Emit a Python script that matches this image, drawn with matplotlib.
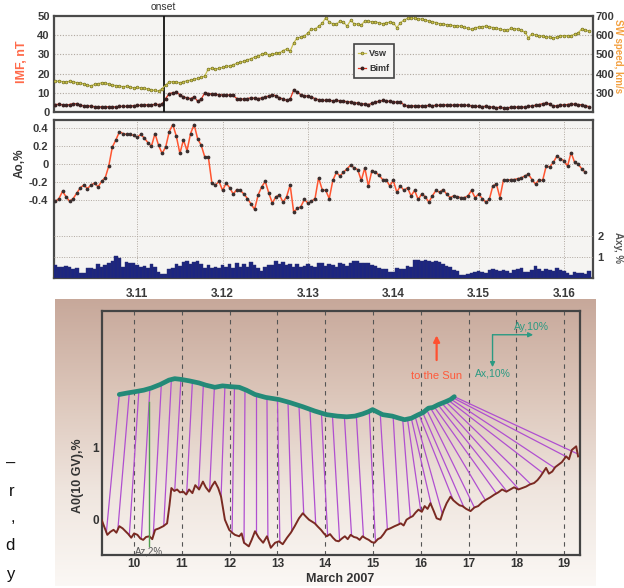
import numpy as np
import matplotlib
matplotlib.use("Agg")
import matplotlib.pyplot as plt
from matplotlib.colors import LinearSegmentedColormap
from matplotlib.ticker import FixedLocator

plt.rcParams['font.family'] = ['Liberation Sans', 'DejaVu Sans']

# ---------------------------------------------------------------
# data: hourly series, hour 1 = 3.10 01 UT (x axis in days of March)
# ---------------------------------------------------------------
vsw_kms = [360, 362, 358, 355, 361, 358, 353, 350, 347, 340, 336, 344,
           346, 353, 350, 345, 340, 338, 335, 332, 334, 330, 326, 328,
           325, 323, 320, 316, 312, 309, 322, 340, 357, 358, 356, 352,
           358, 363, 366, 370, 375, 380, 388, 425, 428, 423, 428, 432,
           437, 440, 446, 454, 458, 465, 472, 478, 486, 493, 500, 507,
           498, 502, 505, 507, 520, 528, 516, 560, 586, 590, 595, 612,
           633, 630, 647, 661, 691, 668, 660, 656, 674, 668, 647, 677,
           660, 658, 653, 674, 672, 670, 670, 664, 660, 664, 668, 666,
           639, 665, 678, 688, 690, 688, 686, 684, 680, 674, 670, 666,
           660, 658, 655, 653, 650, 648, 647, 642, 635, 630, 639, 642,
           645, 647, 644, 640, 635, 632, 628, 625, 635, 634, 633, 625,
           616, 586, 607, 600, 597, 595, 592, 590, 586, 590, 598, 597,
           598, 598, 605, 612, 633, 628, 621]

bimf_nt = [3.9, 4.0, 3.8, 3.5, 3.9, 4.4, 4.2, 3.6, 3.2, 3.3, 3.0, 2.8,
           2.6, 2.7, 2.6, 2.8, 2.6, 2.7, 2.9, 3.0, 2.9, 3.1, 3.3, 3.5,
           3.4, 3.6, 3.8, 3.7, 4.0, 3.9, 4.1, 7.0, 9.6, 10.0, 10.2, 9.0,
           7.9, 7.4, 7.0, 7.9, 5.6, 6.7, 10.0, 9.6, 9.3, 9.2, 9.0, 8.9,
           8.8, 8.9, 8.6, 7.0, 6.8, 6.7, 7.0, 7.4, 7.1, 7.0, 7.3, 7.9,
           8.3, 9.1, 8.4, 7.4, 6.8, 6.1, 6.8, 11.4, 10.2, 9.1, 8.5, 8.2,
           7.7, 7.0, 6.4, 6.0, 6.1, 6.0, 5.9, 6.0, 5.8, 5.6, 5.4, 5.2,
           4.9, 4.6, 4.3, 4.2, 3.9, 4.5, 5.1, 5.6, 6.0, 5.8, 5.5, 5.3,
           5.1, 5.0, 3.8, 3.0, 3.1, 3.2, 3.3, 3.1, 3.2, 3.4, 3.3, 3.5,
           3.4, 3.6, 3.7, 3.5, 3.6, 3.7, 3.8, 3.6, 3.4, 3.2, 3.0, 2.9,
           2.8, 3.0, 2.7, 2.5, 2.3, 2.4, 2.1, 2.2, 2.4, 2.6, 2.5, 2.5,
           2.6, 2.9, 3.2, 3.5, 3.9, 4.3, 4.7, 4.0, 3.0, 3.3, 3.6, 3.7,
           3.9, 4.2, 4.0, 3.9, 3.7, 3.3, 2.8]

ao_pct = [-0.41, -0.38, -0.30, -0.36, -0.41, -0.38, -0.32, -0.26, -0.23, -0.27, -0.23, -0.21,
          -0.25, -0.19, -0.15, -0.02, 0.19, 0.27, 0.36, 0.34, 0.33, 0.33, 0.32, 0.30,
          0.33, 0.29, 0.24, 0.20, 0.34, 0.21, 0.12, 0.19, 0.36, 0.44, 0.31, 0.12,
          0.27, 0.15, 0.34, 0.44, 0.28, 0.21, 0.08, 0.08, -0.21, -0.23, -0.19, -0.29,
          -0.21, -0.26, -0.33, -0.28, -0.29, -0.33, -0.38, -0.44, -0.50, -0.34, -0.25, -0.19,
          -0.32, -0.43, -0.36, -0.34, -0.42, -0.36, -0.23, -0.53, -0.49, -0.47, -0.39, -0.43,
          -0.41, -0.38, -0.15, -0.28, -0.29, -0.38, -0.18, -0.09, -0.13, -0.09, -0.05, -0.01,
          -0.04, -0.06, -0.18, -0.04, -0.24, -0.07, -0.09, -0.12, -0.17, -0.17, -0.24, -0.18,
          -0.31, -0.24, -0.29, -0.26, -0.35, -0.29, -0.39, -0.33, -0.36, -0.42, -0.35, -0.29,
          -0.31, -0.28, -0.33, -0.37, -0.35, -0.36, -0.37, -0.37, -0.35, -0.29, -0.37, -0.33,
          -0.38, -0.42, -0.39, -0.24, -0.22, -0.37, -0.17, -0.18, -0.17, -0.17, -0.16, -0.15,
          -0.13, -0.11, -0.17, -0.22, -0.17, -0.18, -0.02, -0.03, 0.02, 0.09, 0.06, 0.04,
          -0.02, 0.13, 0.02, 0.00, -0.05, -0.09]

axy_pct = [0.63, 0.55, 0.55, 0.58, 0.52, 0.44, 0.47, 0.23, 0.23, 0.47, 0.50, 0.44,
           0.68, 0.55, 0.62, 0.74, 0.84, 1.06, 0.95, 0.55, 0.79, 0.71, 0.74, 0.63,
           0.55, 0.58, 0.47, 0.68, 0.52, 0.31, 0.18, 0.20, 0.42, 0.47, 0.68, 0.58,
           0.79, 0.84, 0.68, 0.79, 0.84, 0.68, 0.47, 0.63, 0.47, 0.55, 0.47, 0.63,
           0.55, 0.68, 0.47, 0.71, 0.55, 0.68, 0.55, 0.79, 0.63, 0.47, 0.35, 0.55,
           0.63, 0.63, 0.84, 0.68, 0.79, 0.63, 0.68, 0.55, 0.68, 0.52, 0.60, 0.66,
           0.58, 0.52, 0.70, 0.73, 0.60, 0.65, 0.62, 0.53, 0.70, 0.66, 0.57, 0.73,
           0.80, 0.82, 0.70, 0.74, 0.70, 0.62, 0.57, 0.48, 0.45, 0.43, 0.27, 0.30,
           0.48, 0.43, 0.45, 0.60, 0.53, 0.87, 0.85, 0.82, 0.87, 0.80, 0.77, 0.82,
           0.75, 0.65, 0.60, 0.52, 0.40, 0.32, 0.15, 0.13, 0.20, 0.22, 0.27, 0.32,
           0.30, 0.23, 0.37, 0.43, 0.40, 0.32, 0.40, 0.35, 0.23, 0.37, 0.45, 0.48,
           0.27, 0.30, 0.37, 0.57, 0.45, 0.32, 0.43, 0.38, 0.32, 0.48, 0.40, 0.32,
           0.23, 0.15, 0.27, 0.25, 0.23, 0.18, 0.32]

onset_day = 11.31
day_ticks = [11, 12, 13, 14, 15, 16]
day_tick_labels = ['3.11', '3.12', '3.13', '3.14', '3.15', '3.16']

# lower panel: A0(10 GV) density and hodograph of the anisotropy vector ends
a0_day = [9.32, 9.40, 9.44, 9.50, 9.57, 9.63, 9.69, 9.76, 9.82, 9.88, 9.94, 10.00,
          10.07, 10.13, 10.19, 10.25, 10.32, 10.38, 10.44, 10.52, 10.61, 10.69, 10.74, 10.78,
          10.84, 10.90, 10.96, 11.03, 11.09, 11.15, 11.22, 11.28, 11.36, 11.44, 11.50, 11.57,
          11.63, 11.69, 11.76, 11.82, 11.90, 11.99, 12.05, 12.11, 12.20, 12.25, 12.30, 12.40,
          12.46, 12.53, 12.61, 12.70, 12.78, 12.86, 12.95, 13.03, 13.11, 13.20, 13.28, 13.36,
          13.45, 13.53, 13.60, 13.66, 13.78, 13.85, 13.91, 13.97, 14.03, 14.10, 14.16, 14.22,
          14.28, 14.35, 14.41, 14.47, 14.53, 14.60, 14.66, 14.72, 14.78, 14.85, 14.91, 14.97,
          15.03, 15.10, 15.16, 15.22, 15.28, 15.36, 15.45, 15.52, 15.58, 15.64, 15.70, 15.77,
          15.83, 15.89, 15.95, 16.02, 16.08, 16.14, 16.20, 16.27, 16.33, 16.41, 16.47, 16.54,
          16.62, 16.68, 16.75, 16.81, 16.87, 16.95, 17.04, 17.12, 17.20, 17.28, 17.37, 17.45,
          17.54, 17.62, 17.70, 17.79, 17.87, 17.95, 18.04, 18.12, 18.20, 18.28, 18.37, 18.44,
          18.50, 18.56, 18.62, 18.68, 18.75, 18.81, 18.87, 18.95, 19.04, 19.10, 19.16, 19.25,
          19.29]
a0_val = [0.00, -0.14, -0.21, -0.17, -0.14, -0.18, -0.09, -0.12, -0.16, -0.20, -0.25, -0.19,
          -0.21, -0.26, -0.28, -0.24, -0.23, -0.27, -0.14, -0.12, -0.09, -0.05, 0.20, 0.44,
          0.40, 0.42, 0.38, 0.39, 0.35, 0.42, 0.37, 0.48, 0.42, 0.53, 0.45, 0.39, 0.47,
          0.53, 0.44, 0.32, 0.00, -0.14, -0.18, -0.21, -0.23, -0.19, -0.32, -0.37,
          -0.28, -0.16, -0.25, -0.32, -0.23, -0.39, -0.32, -0.30, -0.34, -0.25, -0.18, -0.09,
          0.02, 0.09, 0.04, 0.00, -0.05, -0.10, -0.14, -0.19, -0.23, -0.20, -0.25, -0.29,
          -0.30, -0.26, -0.23, -0.27, -0.21, -0.24, -0.25, -0.28, -0.23, -0.26, -0.28, -0.31,
          -0.32, -0.27, -0.25, -0.20, -0.14, -0.12, -0.09, -0.07, -0.05, -0.08, 0.00, 0.03,
          0.05, 0.10, 0.14, 0.11, 0.19, 0.15, 0.23, 0.12, 0.02, 0.00, 0.12, 0.23,
          0.32, 0.27, 0.23, 0.20, 0.19, 0.15, 0.12, 0.17, 0.19, 0.24, 0.28, 0.31,
          0.35, 0.38, 0.42, 0.39, 0.42, 0.45, 0.42, 0.44, 0.46, 0.49, 0.51, 0.55,
          0.60, 0.66, 0.72, 0.64, 0.67, 0.73, 0.76, 0.80, 0.88, 0.84, 0.97, 1.02,
          0.88]

teal_day = [9.69, 9.85, 10.03, 10.20, 10.36, 10.55, 10.73, 10.85, 10.98, 11.15, 11.36, 11.50,
            11.69, 11.85, 12.00, 12.20, 12.35, 12.53, 12.75, 13.03, 13.25, 13.53, 13.78,
            14.03, 14.25, 14.45, 14.62, 14.78, 14.90, 14.99, 15.08, 15.20, 15.40, 15.55,
            15.66, 15.80, 15.95, 16.05, 16.12, 16.16, 16.25, 16.37, 16.52, 16.62, 16.70]
teal_val = [1.74, 1.76, 1.78, 1.80, 1.83, 1.88, 1.94, 1.96, 1.95, 1.93, 1.90, 1.87,
            1.84, 1.86, 1.85, 1.84, 1.80, 1.74, 1.70, 1.67, 1.63, 1.57, 1.51,
            1.46, 1.44, 1.43, 1.44, 1.47, 1.50, 1.53, 1.50, 1.46, 1.44, 1.41,
            1.39, 1.41, 1.46, 1.49, 1.53, 1.55, 1.56, 1.60, 1.64, 1.67, 1.71]

# anisotropy vectors: start time on the A0 curve -> end point on the hodograph
vec_start = [9.42, 9.66, 9.90, 10.15, 10.40, 10.62, 10.85, 11.10, 11.35, 11.58, 11.82,
             12.05, 12.30, 12.55, 12.80, 13.05, 13.30, 13.55, 13.80, 14.05, 14.30, 14.55,
             14.80, 15.05, 15.30, 15.55, 15.78, 16.00, 16.22, 16.45, 16.68, 16.90, 17.12,
             17.35, 17.58, 17.80, 18.05, 18.30, 18.55, 18.80, 19.05, 19.28]
vec_end = [9.69, 9.90, 10.10, 10.33, 10.57, 10.78, 10.98, 11.22, 11.45, 11.68, 11.90,
           12.10, 12.32, 12.55, 12.78, 13.00, 13.22, 13.45, 13.68, 13.92, 14.15, 14.40,
           14.65, 14.92, 15.15, 15.42, 15.62, 15.72, 15.80, 15.88, 15.96, 16.04, 16.12,
           16.20, 16.28, 16.36, 16.44, 16.52, 16.58, 16.63, 16.67, 16.70]

march_ticks = [10, 11, 12, 13, 14, 15, 16, 17, 18, 19]

# ---------------------------------------------------------------
W, H = 624, 588
fig = plt.figure(figsize=(W / 100, H / 100), dpi=100)
fig.patch.set_facecolor('white')


def box(l, t, r, b):
    return [l / W, 1 - b / H, (r - l) / W, (b - t) / H]


def style_spines(ax, c='#4a4a4a', lw=1.6):
    for s in ax.spines.values():
        s.set_color(c)
        s.set_linewidth(lw)


tick_font = dict(fontsize=8, fontweight='bold', color='#3a3a3a')
hours = np.arange(1, len(vsw_kms) + 1)
t_hr = 10 + hours / 24.0
t_ao = 10 + np.arange(1, len(ao_pct) + 1) / 24.0
t_bar = 10 + np.arange(1, len(axy_pct) + 1) / 24.0
xlim_top = (10.025, 16.34)

# --- top panel: IMF and solar wind speed ---
ax1 = fig.add_axes(box(54, 16, 593, 112))
ax1.set_facecolor('#f5f4f2')
style_spines(ax1)
ax1.set_xlim(*xlim_top)
ax1.set_ylim(0, 50)
ax1.set_yticks([0, 10, 20, 30, 40, 50])
ax1.set_yticklabels(['0', '10', '20', '30', '40', '50'], **tick_font)
ax1.set_xticks([])
ax1.tick_params(axis='y', length=0, pad=3)
for yv in [10, 20, 30, 40]:
    ax1.axhline(yv, color='#b0a8a0', lw=0.8, ls=(0, (1, 1.5)), zorder=0)
lb, = ax1.plot(t_hr, bimf_nt, color='#e0301c', lw=0.9, marker='o', ms=1.8,
               mfc='#3a2222', mec='#3a2222', zorder=3)
ax1.axvline(onset_day, color='#111111', lw=1.3, zorder=4)
ax1.text(onset_day, 1.04, 'onset', transform=ax1.get_xaxis_transform(),
         ha='center', va='bottom', fontsize=7.5, color='#333333')

ax1r = ax1.twinx()
ax1r.set_ylim(200, 700)
ax1r.set_yticks([300, 400, 500, 600, 700])
ax1r.set_yticklabels(['300', '400', '500', '600', '700'], **tick_font)
ax1r.tick_params(axis='y', length=0, pad=2)
for s in ax1r.spines.values():
    s.set_visible(False)
lv, = ax1r.plot(t_hr, vsw_kms, color='#c9c050', lw=0.9, marker='o', ms=2.0,
                mfc='#d2c84a', mec='#6f6c22', mew=0.5, zorder=3)
leg = ax1r.legend([lv, lb], ['Vsw', 'Bimf'], loc='center',
                  bbox_to_anchor=(0.593, 0.53), fontsize=6.5, handlelength=0.9,
                  handletextpad=0.3, borderpad=0.5, labelspacing=0.7,
                  fancybox=False, framealpha=1, edgecolor='#444444')
leg.get_frame().set_linewidth(1.2)
leg.get_frame().set_facecolor('#f5f4f2')
for txt in leg.get_texts():
    txt.set_fontweight('bold')
    txt.set_color('#333333')

fig.text(22 / W, 1 - 62 / H, 'IMF, nT', rotation=90, ha='center', va='center',
         fontsize=9, fontweight='bold', color='#ff6a4a')
fig.text(613 / W, 1 - 56 / H, 'SW speed, km/s', rotation=-90, ha='left', va='center',
         fontsize=7, fontweight='bold', color='#f3a040')

# --- middle panel: Ao and Axy ---
ax2 = fig.add_axes(box(54, 120, 593, 278))
ax2.set_facecolor('#f5f4f2')
style_spines(ax2)
ax2.set_xlim(*xlim_top)
ax2.set_ylim(-1.26, 0.49)
ax2.set_yticks([-0.4, -0.2, 0, 0.2, 0.4])
ax2.set_yticklabels(['-0.4', '-0.2', '0', '0.2', '0.4'], **tick_font)
ax2.xaxis.set_major_locator(FixedLocator(day_ticks))
ax2.set_xticklabels(day_tick_labels, fontsize=8.5, fontweight='bold', color='#3a3a3a')
ax2.tick_params(length=0, pad=4)
ax2.tick_params(axis='x', pad=7)
ax2.grid(True, color='#b0a8a0', lw=0.7, ls=(0, (1, 1.5)))
ax2.set_axisbelow(True)
ax2.plot(t_ao, ao_pct, color='#ff5530', lw=1.1, marker='o', ms=1.7,
         mfc='#3a3030', mec='#3a3030', zorder=3)

ax2r = ax2.twinx()
ax2r.set_ylim(0, 7.6)
ax2r.set_yticks([1, 2])
ax2r.set_yticklabels(['1', '2'], **tick_font)
ax2r.tick_params(axis='y', length=0, pad=3)
for s in ax2r.spines.values():
    s.set_visible(False)
for yv in [1, 2]:
    ax2r.axhline(yv, color='#b0a8a0', lw=0.7, ls=(0, (1, 1.5)), zorder=0)
ax2r.bar(t_bar, axy_pct, width=1 / 24.0, color='#1c2580', edgecolor='#2a2f70',
         linewidth=0.3, zorder=2)

fig.text(20 / W, 1 - 163 / H, 'Ao,%', rotation=90, ha='center', va='center',
         fontsize=8.5, fontweight='bold', color='#333333')
fig.text(613 / W, 1 - 248 / H, 'Axy, %', rotation=-90, ha='left', va='center',
         fontsize=7, fontweight='bold', color='#555555')

# --- lower panel: vector diagram ---
bg = fig.add_axes(box(55, 299, 596, 586))
grad = LinearSegmentedColormap.from_list('bg', ['#c7a89a', '#dcc6ba', '#efe5de', '#fbf8f5'])
bg.imshow(np.linspace(0, 1, 256).reshape(-1, 1), aspect='auto', cmap=grad,
          extent=(0, 1, 0, 1), origin='upper')
bg.set_axis_off()

ax3 = fig.add_axes(box(101.6, 311, 580, 555))
ax3.patch.set_alpha(0)
style_spines(ax3, '#444444', 1.6)
ax3.set_xlim(9.32, 19.33)
ax3.set_ylim(-0.49, 2.90)
ax3.set_xticks(march_ticks)
ax3.set_xticklabels([str(d) for d in march_ticks], fontsize=8.5, fontweight='bold', color='#333333')
ax3.set_yticks([0, 1])
ax3.set_yticklabels(['0', '1'], fontsize=8.5, fontweight='bold', color='#333333')
ax3.tick_params(length=0, pad=2)
for d in march_ticks:
    ax3.axvline(d, color='#555555', lw=0.8, ls=(0, (4, 4)), zorder=1)

start_y = np.interp(vec_start, a0_day, a0_val)
end_y = np.interp(vec_end, teal_day, teal_val)
for xs, ys, xe, ye in zip(vec_start, start_y, vec_end, end_y):
    ax3.plot([xs, xe], [ys, ye], color='#b04fd0', lw=0.9, zorder=2)

ax3.plot(a0_day, a0_val, color='#7a2a22', lw=1.4, zorder=3)
ax3.plot(teal_day, teal_val, color='#238a78', lw=3.4, solid_capstyle='round', zorder=4)

# scale markers
ax3.plot([10.32, 10.32], [-0.37, 1.63], color='#4fa050', lw=1.0, zorder=3)
ax3.text(10.32, -0.44, 'Az,2%', ha='center', va='center', fontsize=7, color='#555555')
ax3.annotate('', xy=(16.33, 2.60), xytext=(16.33, 2.18),
             arrowprops=dict(arrowstyle='-|>', color='#ff5030', lw=1.6, mutation_scale=9))
ax3.text(16.33, 1.99, 'to the Sun', ha='center', va='center', fontsize=8, color='#ff5a3a')
ax3.annotate('', xy=(18.35, 2.57), xytext=(17.50, 2.57),
             arrowprops=dict(arrowstyle='-|>', color='#2a9a82', lw=1.0, mutation_scale=7,
                             shrinkA=0, shrinkB=0))
ax3.annotate('', xy=(17.50, 2.12), xytext=(17.50, 2.57),
             arrowprops=dict(arrowstyle='-|>', color='#2a9a82', lw=1.0, mutation_scale=7,
                             shrinkA=0, shrinkB=0))
ax3.text(18.31, 2.68, 'Ay,10%', ha='center', va='center', fontsize=7.5, color='#2a9a82')
ax3.text(17.50, 2.03, 'Ax,10%', ha='center', va='center', fontsize=7.5, color='#2a9a82')

fig.text(78 / W, 1 - 476 / H, 'A0(10 GV),%', rotation=90, ha='center', va='center',
         fontsize=9, fontweight='bold', color='#333333')
fig.text(340 / W, 1 - 579 / H, 'March 2007', ha='center', va='center',
         fontsize=9, fontweight='bold', color='#333333')

# fragments of the neighbouring column's caption at the left edge
for ch, yp in zip(['\u2013', 'r', ',', 'd', 'y'], [463, 491, 518, 545, 574]):
    fig.text(15 / W, 1 - yp / H, ch, ha='right', va='center', fontsize=12, color='#111111')

fig.savefig('out.png', dpi=100)
